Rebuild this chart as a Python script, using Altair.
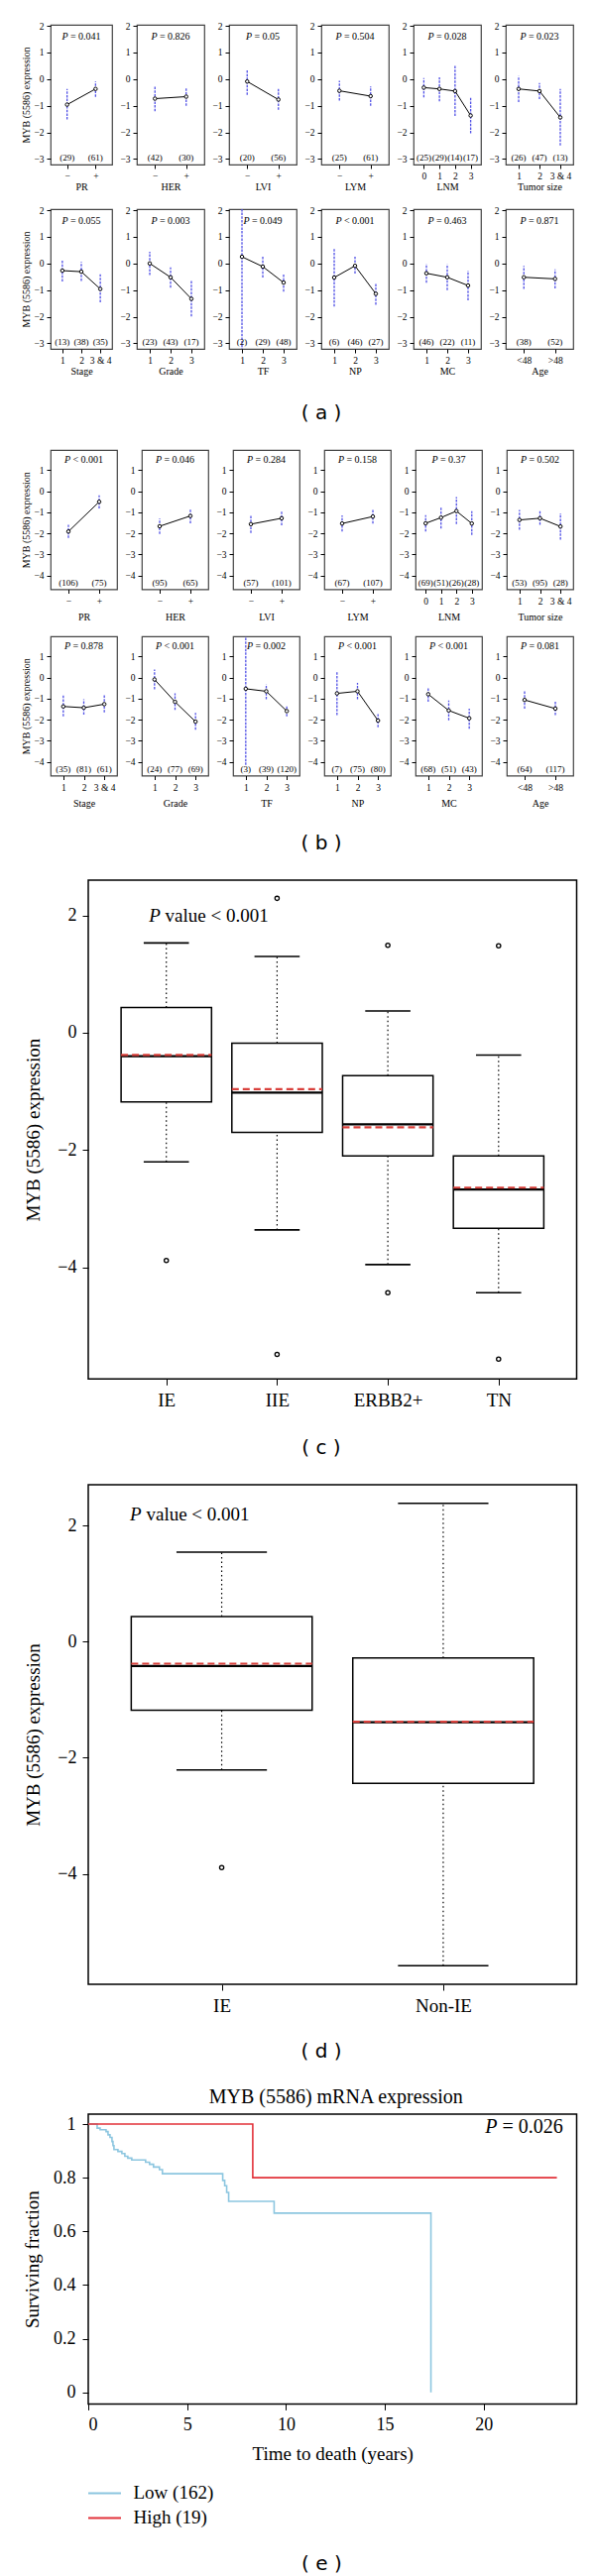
import altair as alt
import pandas as pd

SERIF = "Liberation Serif"
SANS = "DejaVu Sans"
ERR_BLUE = "#5050e6"
KM_BLUE = "#8cc6e0"
KM_RED = "#e2323a"
MEAN_RED = "#d9413c"

# ---------------- (a) small panels ----------------
a_group = ["PR", "HER", "LVI", "LYM", "LNM", "Tumor size",
           "Stage", "Grade", "TF", "NP", "MC", "Age"]
a_cats = [["−", "+"], ["−", "+"], ["−", "+"], ["−", "+"], ["0", "1", "2", "3"],
          ["1", "2", "3 & 4"], ["1", "2", "3 & 4"], ["1", "2", "3"], ["1", "2", "3"],
          ["1", "2", "3"], ["1", "2", "3"], ["<48", ">48"]]
a_mean = [[-0.96, -0.37], [-0.735, -0.66], [-0.09, -0.77], [-0.44, -0.64],
          [-0.32, -0.37, -0.45, -1.37], [-0.37, -0.45, -1.44],
          [-0.27, -0.31, -0.96], [0.0, -0.52, -1.33], [0.25, -0.12, -0.72],
          [-0.53, -0.09, -1.14], [-0.37, -0.52, -0.83], [-0.52, -0.58]]
a_lo = [[-1.52, -0.67], [-1.21, -1.0], [-0.59, -1.15], [-0.81, -1.0],
        [-0.69, -0.84, -1.39, -2.04], [-0.86, -0.75, -2.49],
        [-0.68, -0.66, -1.46], [-0.44, -0.91, -1.99], [-4.8, -0.53, -1.06],
        [-1.62, -0.38, -1.55], [-0.72, -1.0, -1.39], [-0.96, -0.94]]
a_hi = [[-0.37, -0.09], [-0.25, -0.34], [0.37, -0.37], [-0.06, -0.28],
        [0.04, 0.07, 0.52, -0.71], [0.11, -0.15, -0.37],
        [0.15, 0.06, -0.41], [0.44, -0.15, -0.66], [5.3, 0.29, -0.37],
        [0.59, 0.25, -0.72], [-0.03, -0.03, -0.27], [-0.09, -0.22]]
a_n = [[29, 61], [42, 30], [20, 56], [25, 61], [25, 29, 14, 17], [26, 47, 13],
       [13, 38, 35], [23, 43, 17], [2, 29, 48], [6, 46, 27], [46, 22, 11], [38, 52]]
a_p = ["= 0.041", "= 0.826", "= 0.05", "= 0.504", "= 0.028", "= 0.023",
       "= 0.055", "= 0.003", "= 0.049", "< 0.001", "= 0.463", "= 0.871"]

# ---------------- (b) small panels ----------------
b_group = a_group
b_cats = a_cats
b_mean = [[-1.91, -0.5], [-1.66, -1.17], [-1.56, -1.28], [-1.53, -1.20],
          [-1.52, -1.25, -0.94, -1.53], [-1.36, -1.28, -1.67],
          [-1.37, -1.43, -1.26], [-0.09, -1.15, -2.09], [-0.53, -0.65, -1.59],
          [-0.75, -0.65, -2.04], [-0.79, -1.56, -1.93], [-1.06, -1.47]]
b_lo = [[-2.22, -0.81], [-2.03, -1.52], [-1.98, -1.61], [-1.91, -1.53],
        [-1.91, -1.77, -1.56, -2.08], [-1.83, -1.59, -2.30],
        [-1.84, -1.76, -1.65], [-0.56, -1.53, -2.47], [-4.15, -1.03, -1.84],
        [-1.78, -1.03, -2.36], [-1.15, -2.03, -2.43], [-1.47, -1.78]]
b_hi = [[-1.59, -0.19], [-1.30, -0.83], [-1.13, -0.91], [-1.14, -0.86],
        [-1.13, -0.73, -0.28, -0.94], [-0.89, -0.94, -1.05],
        [-0.84, -1.03, -0.84], [0.38, -0.75, -1.68], [3.09, -0.32, -1.37],
        [0.30, -0.25, -1.73], [-0.48, -1.09, -1.47], [-0.64, -1.15]]
b_n = [[106, 75], [95, 65], [57, 101], [67, 107], [69, 51, 26, 28], [53, 95, 28],
       [35, 81, 61], [24, 77, 69], [3, 39, 120], [7, 75, 80], [68, 51, 43], [64, 117]]
b_p = ["< 0.001", "= 0.046", "= 0.284", "= 0.158", "= 0.37", "= 0.502",
       "= 0.878", "< 0.001", "= 0.002", "< 0.001", "< 0.001", "= 0.081"]

# ---------------- (c) box plot ----------------
c_cats = ["IE", "IIE", "ERBB2+", "TN"]
c_lo = [-2.20, -3.36, -3.95, -4.43]
c_q1 = [-1.18, -1.70, -2.10, -3.33]
c_med = [-0.40, -1.02, -1.56, -2.67]
c_mean = [-0.38, -0.96, -1.61, -2.64]
c_q3 = [0.43, -0.18, -0.73, -2.10]
c_hi = [1.53, 1.30, 0.37, -0.38]
c_out_cat = [1, 2, 2, 3, 3, 4, 4]
c_out_val = [-3.88, 2.29, -5.48, 1.49, -4.43, 1.48, -5.56]

# ---------------- (d) box plot ----------------
d_cats = ["IE", "Non-IE"]
d_lo = [-2.21, -5.58]
d_q1 = [-1.18, -2.44]
d_med = [-0.42, -1.39]
d_mean = [-0.38, -1.38]
d_q3 = [0.43, -0.28]
d_hi = [1.54, 2.38]
d_out_cat = [1]
d_out_val = [-3.89]

# ---------------- (e) Kaplan-Meier ----------------
low_t = [0, 0.45, 0.6, 0.9, 1.0, 1.1, 1.2, 1.25, 1.3, 1.5, 1.7, 1.85, 2.0, 2.2,
         2.9, 3.1, 3.3, 3.6, 3.75, 6.8, 6.9, 7.0, 7.1, 9.4, 17.33]
low_s = [1, 0.985, 0.979, 0.972, 0.96, 0.95, 0.935, 0.92, 0.905, 0.898, 0.89,
         0.88, 0.873, 0.866, 0.858, 0.85, 0.84, 0.83, 0.815, 0.79, 0.77, 0.745,
         0.712, 0.668, 0.0]
high_t = [0, 8.32, 23.7]
high_s = [1, 0.8, 0.8]
km_names = ["Low (162)", "High (19)"]
km_colors = [KM_BLUE, KM_RED]


def text_w(s, size):
    w = 0.0
    for ch in s:
        if ch.isdigit():
            w += 0.5
        elif ch in ". ":
            w += 0.25
        elif ch in "=<":
            w += 0.564
        else:
            w += 0.5
    return w * size


def p_text(rest, x_left, cy, size):
    src = pd.DataFrame({"p": ["P"], "r": [rest]})
    wp = 0.611 * size + 0.25 * size
    a = alt.Chart(src).mark_text(font=SERIF, fontSize=size, fontStyle="italic",
                                 align="left", baseline="middle", color="black").encode(
        text="p:N", x=alt.value(x_left), y=alt.value(cy))
    b = alt.Chart(src).mark_text(font=SERIF, fontSize=size, align="left",
                                 baseline="middle", color="black").encode(
        text="r:N", x=alt.value(x_left + wp), y=alt.value(cy))
    return [a, b]


def spacer(w, h):
    return alt.Chart(pd.DataFrame({"s": [""]})).mark_text().encode(
        text="s:N").properties(width=w, height=h)


def small_panel(cats, means, lo, hi, counts, p, group, show_ytitle, ydom, yticks,
                w, h, title_y, p_y):
    n = len(cats)
    df = pd.DataFrame({"cat": cats, "m": means, "lo": lo, "hi": hi,
                       "cnt": ["(%d)" % c for c in counts]})
    xenc = alt.X("cat:N", sort=cats,
                 scale=alt.Scale(type="point", padding=0.5 + 0.04 * n),
                 axis=alt.Axis(title=group, labelAngle=0, labelFontSize=9.5,
                               labelBaseline="middle", labelPadding=7.5, tickSize=4,
                               titleFontSize=10, titleY=title_y,
                               titleBaseline="middle"))
    yscale = alt.Scale(domain=ydom, nice=False, zero=False)
    ykw = dict(values=yticks, labelFontSize=9.5, tickSize=4, labelPadding=3)
    if show_ytitle:
        ykw.update(title="MYB (5586) expression", titleFontSize=10, titleX=-25,
                   titleY=h / 2, titleAlign="center", titleBaseline="middle")
    else:
        ykw.update(title=None)
    yaxis = alt.Axis(**ykw)
    base = alt.Chart(df)
    err = base.mark_rule(color=ERR_BLUE, strokeDash=[2.5, 1.2], strokeWidth=1.3,
                         clip=True).encode(
        x=xenc, y=alt.Y("lo:Q", scale=yscale, axis=yaxis), y2="hi:Q")
    line = base.mark_line(color="black", strokeWidth=1).encode(
        x=xenc, y=alt.Y("m:Q", scale=yscale, axis=yaxis))
    pts = base.mark_point(shape="circle", filled=True, fill="white", stroke="black",
                          size=12, strokeWidth=1, opacity=1).encode(
        x=xenc, y=alt.Y("m:Q", scale=yscale, axis=yaxis))
    cnt = base.mark_text(font=SERIF, fontSize=9, baseline="middle", color="black").encode(
        x=xenc, y=alt.value(h - 7), text="cnt:N")
    size = 10
    total = 0.611 * size + 0.25 * size + text_w(p, size)
    pt = p_text(p, w / 2 - total / 2, p_y, size)
    return alt.layer(err, line, pts, cnt, *pt).properties(
        width=w, height=h, view=alt.ViewBackground(stroke="#444444", strokeWidth=1.2))


def small_row(idx, group, cats, mean, lo, hi, nn, pv, ydom, yticks, widths, h,
              title_y, p_y):
    panels = []
    for k, i in enumerate(idx):
        panels.append(small_panel(cats[i], mean[i], lo[i], hi[i], nn[i], pv[i],
                                  group[i], k == 0, ydom, yticks, widths[k], h,
                                  title_y, p_y))
    return alt.hconcat(*panels, spacing=25, bounds="flush").resolve_scale(
        x="independent", y="independent")


def label_chart(txt, x, y, w, h, extra=None):
    src = pd.DataFrame({"t": [txt]})
    lab = alt.Chart(src).mark_text(font=SANS, fontSize=20, color="black",
                                   baseline="middle").encode(
        text="t:N", x=alt.value(x), y=alt.value(y))
    layers = [lab] + (extra or [])
    return alt.layer(*layers).properties(width=w, height=h)


PW = 492.5


def box_chart(cats, lo, q1, med, mean, q3, hi, out_cat, out_val, ydom, p_left, p_y, h):
    n = len(cats)
    pos = list(range(1, n + 1))
    df = pd.DataFrame({"pos": pos, "lo": lo, "q1": q1, "med": med, "mean": mean,
                       "q3": q3, "hi": hi})
    odf = pd.DataFrame({"pos": out_cat, "v": out_val})
    unit = PW / (n * 1.08)
    bw = 0.8 * unit
    expr = "[" + ",".join("'%s'" % c for c in cats) + "][datum.value - 1]"
    xscale = alt.Scale(domain=[0.5 - 0.04 * n, n + 0.5 + 0.04 * n], nice=False, zero=False)
    xaxis = alt.Axis(values=pos, labelExpr=expr, title=None, labelFontSize=19,
                     tickSize=6, labelPadding=15.5, labelBaseline="middle")
    xenc = alt.X("pos:Q", scale=xscale, axis=xaxis)
    yscale = alt.Scale(domain=ydom, nice=False, zero=False)
    yaxis = alt.Axis(values=[-4, -2, 0, 2], labelFontSize=18, tickSize=6, labelPadding=6,
                     title="MYB (5586) expression", titleFontSize=19, titleX=-56,
                     titleY=h / 2, titleAlign="center", titleBaseline="middle")

    def Y(f):
        return alt.Y(f, scale=yscale, axis=yaxis)

    base = alt.Chart(df)
    w_up = base.mark_rule(color="black", strokeDash=[1.5, 3], strokeWidth=1.2).encode(
        x=xenc, y=Y("q3:Q"), y2="hi:Q")
    w_dn = base.mark_rule(color="black", strokeDash=[1.5, 3], strokeWidth=1.2).encode(
        x=xenc, y=Y("lo:Q"), y2="q1:Q")
    cap_hi = base.mark_rule(color="black", strokeWidth=1.6, xOffset=-bw / 4,
                            x2Offset=bw / 4).encode(x=xenc, x2="pos:Q", y=Y("hi:Q"))
    cap_lo = base.mark_rule(color="black", strokeWidth=1.6, xOffset=-bw / 4,
                            x2Offset=bw / 4).encode(x=xenc, x2="pos:Q", y=Y("lo:Q"))
    box = base.mark_bar(size=bw, fill="white", stroke="black", strokeWidth=1.5).encode(
        x=xenc, y=Y("q1:Q"), y2="q3:Q")
    medl = base.mark_rule(color="black", strokeWidth=2.2, xOffset=-bw / 2,
                          x2Offset=bw / 2).encode(x=xenc, x2="pos:Q", y=Y("med:Q"))
    meanl = base.mark_rule(color=MEAN_RED, strokeWidth=2.2, strokeDash=[7, 4],
                           xOffset=-bw / 2, x2Offset=bw / 2).encode(
        x=xenc, x2="pos:Q", y=Y("mean:Q"))
    outl = alt.Chart(odf).mark_point(shape="circle", filled=False, color="black",
                                     size=18, strokeWidth=1.3, opacity=1).encode(
        x=xenc, y=Y("v:Q"))
    pt = p_text("value < 0.001", p_left, p_y, 19)
    return alt.layer(w_up, w_dn, cap_hi, cap_lo, box, medl, meanl, outl, *pt).properties(
        width=PW, height=h, view=alt.ViewBackground(stroke="black", strokeWidth=1.5))


def km_chart(h):
    df = pd.concat([
        pd.DataFrame({"t": low_t, "s": low_s, "g": km_names[0]}),
        pd.DataFrame({"t": high_t, "s": high_s, "g": km_names[1]}),
    ])
    xenc = alt.X("t:Q", scale=alt.Scale(domain=[0, 24.7], nice=False, zero=False),
                 axis=alt.Axis(values=[0, 5, 10, 15, 20], labelFontSize=18, tickSize=6,
                               labelPadding=15, labelBaseline="middle",
                               title="Time to death (years)", titleFontSize=19,
                               titleY=50, titleBaseline="middle"))
    yenc = alt.Y("s:Q", scale=alt.Scale(domain=[-0.043, 1.037], nice=False, zero=False),
                 axis=alt.Axis(values=[0, 0.2, 0.4, 0.6, 0.8, 1], format="~g",
                               labelFontSize=18, tickSize=6, labelPadding=7,
                               title="Surviving fraction", titleFontSize=19,
                               titleX=-57, titleY=h / 2, titleAlign="center",
                               titleBaseline="middle"))
    lines = alt.Chart(df).mark_line(interpolate="step-after", strokeWidth=1.6).encode(
        x=xenc, y=yenc, detail="g:N",
        color=alt.Color("g:N", scale=alt.Scale(domain=km_names, range=km_colors),
                        legend=None))
    size = 20
    rest = "= 0.026"
    wr = text_w(rest, size)
    right = 478.8
    src = pd.DataFrame({"p": ["P"], "r": [rest]})
    r_t = alt.Chart(src).mark_text(font=SERIF, fontSize=size, align="right",
                                   baseline="middle", color="black").encode(
        text="r:N", x=alt.value(right), y=alt.value(13))
    p_t = alt.Chart(src).mark_text(font=SERIF, fontSize=size, fontStyle="italic",
                                   align="right", baseline="middle", color="black").encode(
        text="p:N", x=alt.value(right - wr - 0.25 * size), y=alt.value(13))
    return alt.layer(lines, r_t, p_t).properties(
        width=PW, height=h, view=alt.ViewBackground(stroke="black", strokeWidth=1.5))


def legend_chart(y1, y2, ylab, h):
    df = pd.DataFrame({"g": km_names})
    yenc = alt.Y("g:N", sort=km_names,
                 scale=alt.Scale(type="point", range=[y1, y2], padding=0),
                 axis=None)
    col = alt.Color("g:N", scale=alt.Scale(domain=km_names, range=km_colors), legend=None)
    rules = alt.Chart(df).mark_rule(strokeWidth=2).encode(
        x=alt.value(0), x2=alt.value(33), y=yenc, color=col)
    texts = alt.Chart(df).mark_text(font=SERIF, fontSize=19, align="left",
                                    baseline="middle", color="black").encode(
        x=alt.value(45.5), y=yenc, text="g:N")
    lab = alt.Chart(pd.DataFrame({"t": ["( e )"]})).mark_text(
        font=SANS, fontSize=20, color="black", baseline="middle").encode(
        text="t:N", x=alt.value(323 - 87.6), y=alt.value(ylab))
    return alt.layer(rules, texts, lab).properties(width=PW, height=h)


def offset_row(ch, h):
    return alt.hconcat(spacer(12.5, h), ch, spacing=25, bounds="flush").resolve_scale(
        x="independent", y="independent", color="independent")


A_DOM = [-3.21, 2.04]
A_TICKS = [-3, -2, -1, 0, 1, 2]
B_DOM = [-4.65, 1.96]
B_TICKS = [-4, -3, -2, -1, 0, 1]
AW = [62, 68, 68, 68, 68, 68]
BW = [67, 67, 67, 67, 67, 67]

a1 = small_row(range(0, 6), a_group, a_cats, a_mean, a_lo, a_hi, a_n, a_p,
               A_DOM, A_TICKS, AW, 141, 22, 11.7)
a2 = small_row(range(6, 12), a_group, a_cats, a_mean, a_lo, a_hi, a_n, a_p,
               A_DOM, A_TICKS, AW, 141, 22, 11.7)
b1 = small_row(range(0, 6), b_group, b_cats, b_mean, b_lo, b_hi, b_n, b_p,
               B_DOM, B_TICKS, BW, 140.5, 27.5, 10)
b2 = small_row(range(6, 12), b_group, b_cats, b_mean, b_lo, b_hi, b_n, b_p,
               B_DOM, B_TICKS, BW, 140.5, 27.5, 10)

CH = 503.3
DH = 504
EH = 292.4
c_plot = box_chart(c_cats, c_lo, c_q1, c_med, c_mean, c_q3, c_hi, c_out_cat, c_out_val,
                   [-5.9, 2.6], 61.2, 35.7, CH)
d_plot = box_chart(d_cats, d_lo, d_q1, d_med, d_mean, d_q3, d_hi, d_out_cat, d_out_val,
                   [-5.9, 2.7], 42.1, 30, DH)
e_plot = km_chart(EH)

# page-coordinate tops of each block (nested rows take no height in a flush layout,
# so the label / spacer charts between them carry the vertical distances)
TOP_A1, TOP_A2, TOP_B1, TOP_B2 = 24.0, 209.3, 451.7, 639.3
TOP_C, TOP_D, TOP_E = 885.0, 1495.0, 2129.3

km_title = alt.Chart(pd.DataFrame({"t": ["MYB (5586) mRNA expression"]})).mark_text(
    font=SERIF, fontSize=20, color="black", baseline="middle").encode(
    text="t:N", x=alt.value(287.7), y=alt.value(2113.3 - TOP_D))

chart = alt.vconcat(
    a1,
    spacer(10, TOP_A2 - TOP_A1),
    a2,
    label_chart("( a )", 273, 415 - TOP_A2, 530, TOP_B1 - TOP_A2),
    b1,
    spacer(10, TOP_B2 - TOP_B1),
    b2,
    label_chart("( b )", 273, 848.3 - TOP_B2, 530, TOP_C - TOP_B2),
    offset_row(c_plot, CH),
    label_chart("( c )", 273, 1458.3 - TOP_C, 530, TOP_D - TOP_C),
    offset_row(d_plot, DH),
    label_chart("( d )", 273, 2066.7 - TOP_D, 530, TOP_E - TOP_D, [km_title]),
    offset_row(e_plot, EH),
    offset_row(legend_chart(2511.7 - TOP_E, 2536.7 - TOP_E, 2583 - TOP_E, 465), 465),
    spacer(10, 462),
    spacing=0, bounds="flush"
).resolve_scale(
    x="independent", y="independent", color="independent"
).properties(
    padding={"left": 12, "top": 12, "right": 5, "bottom": 0},
    background="white"
).configure_view(stroke=None).configure_axis(
    labelFont=SERIF, titleFont=SERIF, grid=False, domain=False,
    labelColor="black", titleColor="black", tickColor="black",
    titleFontWeight="normal"
)

chart.save("out.html", embed_options={"renderer": "svg", "actions": False})
